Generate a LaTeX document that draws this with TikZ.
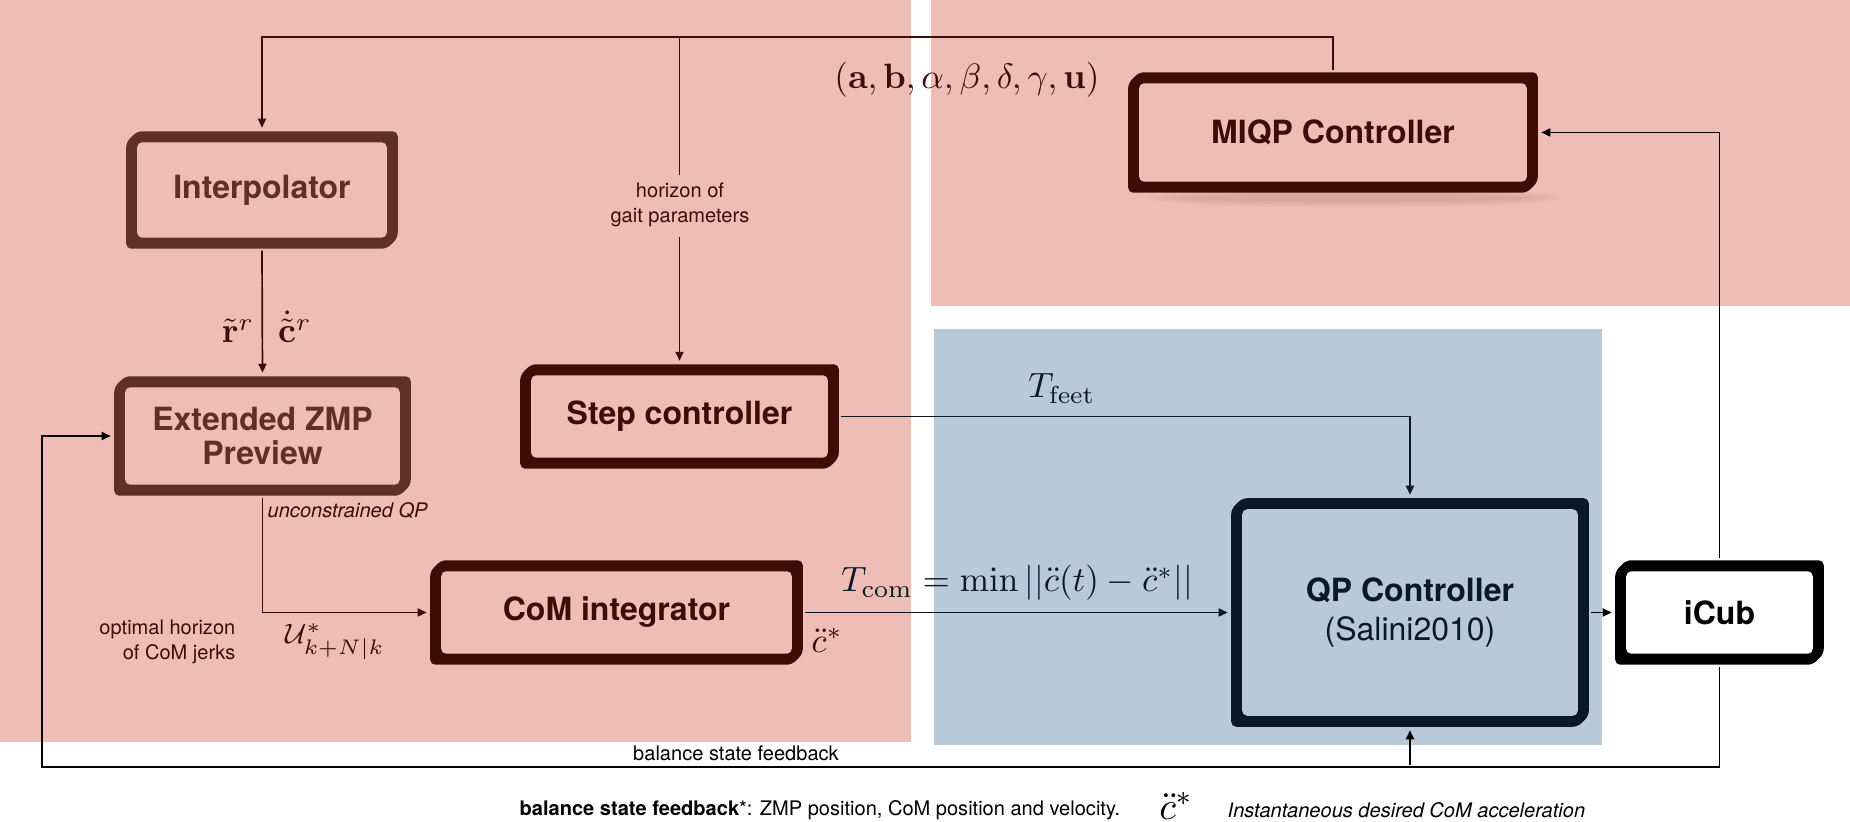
\documentclass[tikz,border=0pt]{standalone}
\usepackage{amsmath}
\usepackage[no-math]{fontspec}
\setmainfont{TeX Gyre Heros}
\usetikzlibrary{arrows.meta,calc}
\definecolor{pinkbg}{RGB}{238,190,182}
\definecolor{bluebg}{RGB}{185,201,216}
\definecolor{brownA}{RGB}{95,47,41}
\definecolor{brownB}{RGB}{62,13,8}
\definecolor{navy}{RGB}{10,24,40}
\pgfdeclarelayer{bg}
\pgfdeclarelayer{fr}
\pgfsetlayers{bg,fr,main}
\newcommand{\gframe}[3]{%
  \begin{pgfonlayer}{fr}
    \fill[#2,rounded corners=0.5mm] ($(#1.north west)+(11,0)$) -- (#1.north east)
      -- ($(#1.south east)+(0,-11)$) -- ($(#1.south east)+(-11,0)$)
      -- (#1.south west) -- ($(#1.north west)+(0,11)$) -- cycle;
    \fill[#3,rounded corners=0.5mm] ($(#1.north west)+(11,11)$) rectangle ($(#1.south east)+(-11,-11)$);
  \end{pgfonlayer}}
\tikzset{
  box/.style={inner sep=0pt, align=center, font=\fontsize{9.1}{9.6}\selectfont\bfseries},
  conn/.style={line width=0.17mm, shorten >=0.35mm, shorten <=0.2mm, -{Triangle[length=0.9mm,width=0.8mm]}},
  plain/.style={line width=0.17mm},
  small/.style={inner sep=0pt, font=\fontsize{5.7}{7.2}\selectfont},
  mth/.style={inner sep=0pt, font=\fontsize{10.3}{12}\selectfont},
}
\begin{document}
\begin{tikzpicture}[x=0.01cm,y=-0.01cm]
\useasboundingbox (0,0) rectangle (1850,822);
\begin{pgfonlayer}{bg}
  \fill[white] (0,0) rectangle (1850,822);
  \fill[pinkbg] (0,0) rectangle (911,742);
  \fill[pinkbg] (931,0) rectangle (1850,306);
  \fill[bluebg] (934,329) rectangle (1602,745);
\end{pgfonlayer}

% nodes
\node[box, text=brownA, minimum width=2.70cm, minimum height=1.16cm] (interp) at (262,190) {Interpolator};
\node[box, text=brownA, minimum width=2.95cm, minimum height=1.18cm] (zmp) at (262.5,436) {Extended ZMP\\Preview};
\node[box, text=brownB, minimum width=3.17cm, minimum height=1.03cm] (step) at (679.5,416.5) {Step controller};
\node[box, text=brownB, minimum width=4.08cm, minimum height=1.19cm] (miqp) at (1333,132.5) {MIQP Controller};
\node[box, text=brownB, minimum width=3.71cm, minimum height=1.03cm] (com) at (616.5,612.5) {CoM integrator};
\node[box, text=navy, minimum width=3.56cm, minimum height=2.27cm, font=\fontsize{9.1}{11.1}\selectfont] (qp) at (1410,612.5) {\textbf{QP Controller}\\(Salini2010)};
\node[box, text=black, minimum width=2.07cm, minimum height=1.03cm] (icub) at (1719.5,612.5) {iCub};

% soft shadow under MIQP
\begin{pgfonlayer}{fr}
  \foreach \i in {0,...,4}
    \fill[brownB,opacity=0.025] ($(miqp.south)+(20,5)$) ellipse [x radius={2.1cm-\i*0.1cm}, y radius={0.1cm-\i*0.015cm}];
\end{pgfonlayer}

\gframe{interp}{brownA}{pinkbg}
\gframe{zmp}{brownA}{pinkbg}
\gframe{step}{brownB}{pinkbg}
\gframe{miqp}{brownB}{pinkbg}
\gframe{com}{brownB}{pinkbg}
\gframe{qp}{navy}{bluebg}
\gframe{icub}{black}{white}

% helper coordinates
\coordinate (ytop) at (0,37);
\coordinate (fbL) at (42,767);

% connectors
\draw[conn, brownB] (miqp.north) |- (ytop -| interp.north) -- (interp.north);
\draw[plain, brownB] (ytop -| step.north) -- ++(0,138);
\draw[conn, brownB] ($(ytop -| step.north)+(0,198)$) -- (step.north);
\node[small, text=brownB, align=center, font=\fontsize{5.7}{7.1}\selectfont] (gait) at (680,205) {horizon of\\gait parameters};

\draw[conn, black] (icub.north) |- (miqp.east);
\draw[conn, black] (qp.east) -- (icub.west);
\draw[conn, black] (icub.south) |- (fbL) |- (zmp.west);
\draw[conn, black] (qp.south |- fbL) -- (qp.south);
\draw[conn, navy] (step.east) -| (qp.north);
\draw[conn, brownB] (interp.south) -- (zmp.north);
\draw[conn, brownB] (zmp.south) |- (com.west);
\draw[conn, navy] (com.east) -- (qp.west);

% labels
\node[mth, text=brownB] (labc) at (967,80) {$(\mathbf{a},\mathbf{b},\alpha,\beta,\delta,\gamma,\mathbf{u})$};
\node[mth, text=brownB, anchor=base] (lr) at (238,343) {$\tilde{\mathbf{r}}^r$};
\node[mth, text=brownB, anchor=base] (lc) at (295,343) {$\dot{\tilde{\mathbf{c}}}^r$};
\node[small, text=brownB, anchor=west, font=\fontsize{5.7}{7.1}\selectfont\itshape] (luq) at (267,511) {unconstrained QP};
\node[small, text=brownB, anchor=east, align=right] (lopt) at (236,642) {optimal horizon\\of CoM jerks};
\node[inner sep=0pt, text=brownB, font=\fontsize{8.3}{10}\selectfont] (lU) at (335,642) {$\mathcal{U}^*_{k+N|k}$};
\node[mth, text=navy, anchor=base] (ltcom) at (1017,592) {$T_{\mathrm{com}}=\min||\ddot{c}(t)-\ddot{c}^*||$};
\node[mth, text=brownB] (lcdd) at (827,640) {$\ddot{c}^*$};
\node[mth, text=navy, anchor=base] (ltfeet) at (1062,398) {$T_{\mathrm{feet}}$};
\node[small, text=black] (lfb) at (736,753) {balance state feedback};

% legend
\node[small, text=black, anchor=west] (leg1) at (519,810) {\textbf{balance state feedback}*: ZMP position, CoM position and velocity.};
\node[inner sep=0pt, text=black, font=\fontsize{11}{13}\selectfont] (leg2) at (1176,806) {$\ddot{c}^*$};
\node[small, text=black, anchor=west, font=\fontsize{5.7}{7.1}\selectfont\itshape] (leg3) at (1227,810) {Instantaneous desired CoM acceleration};
\end{tikzpicture}
\end{document}
